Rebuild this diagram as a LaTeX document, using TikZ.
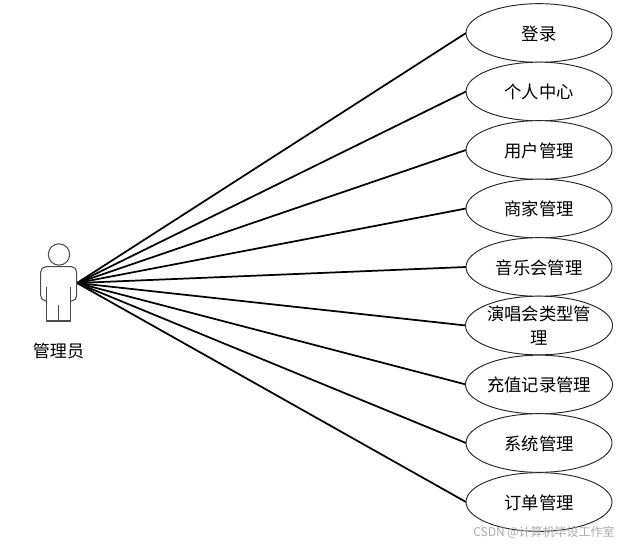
\documentclass[tikz,border=0pt]{standalone}
\usepackage{fontspec}
\setmainfont{Noto Sans CJK SC}[Scale=1]
\usetikzlibrary{shapes.geometric}
\newcommand{\casetext}[1]{\raisebox{-4.9pt}[0pt][0pt]{\begin{tabular}{@{}c@{}}#1\end{tabular}}}
\tikzset{
  px/.style={x=0.75pt,y=-0.75pt},
  usecase/.style={ellipse,draw=black!85,line width=0.7pt,fill=white,minimum width=109.5pt,minimum height=44pt,inner sep=0pt,font=\fontsize{13pt}{18pt}\selectfont},
  assoc/.style={draw=black,line width=1.3pt},
  actorline/.style={draw=black!70,line width=0.8pt,line join=round},
  actorlabel/.style={font=\fontsize{12.8pt}{16pt}\selectfont,inner sep=0pt},
  mark text/.style={font=\fontsize{9pt}{12pt}\selectfont,text=black!32,inner sep=0pt,anchor=east}
}
\begin{document}
\begin{tikzpicture}[px]
\useasboundingbox (0,0) rectangle (620,543);
\fill[white] (0,0) rectangle (620,543);
\coordinate (actor) at (77,283);
\foreach \n/\y in {1/33,2/91.5,3/150,4/208.5,5/267,6/325.5,7/384.5,8/443,9/502} \coordinate (c\n) at (466,\y);
\foreach \n in {1,...,9} \draw[assoc] (actor) -- (c\n);
\node[usecase] (u1) at (539,33) {\casetext{登录}};
\node[usecase] (u2) at (539,91.5) {\casetext{个人中心}};
\node[usecase] (u3) at (539,150) {\casetext{用户管理}};
\node[usecase] (u4) at (539,208.5) {\casetext{商家管理}};
\node[usecase] (u5) at (539,267) {\casetext{音乐会管理}};
\node[usecase] (u6) at (539,325.5) {\casetext{演唱会类型管\\理}};
\node[usecase] (u7) at (539,384.5) {\casetext{充值记录管理}};
\node[usecase] (u8) at (539,443) {\casetext{系统管理}};
\node[usecase] (u9) at (539,502) {\casetext{订单管理}};
\node[circle,actorline,minimum size=16pt,inner sep=0pt] (head) at (59,254.5) {};
\draw[actorline,rounded corners=4pt] (46.7,301) -- (40.7,301) -- (40.7,266.7) -- (76.7,266.7) -- (76.7,301) -- (70.7,301);
\draw[actorline] (46.7,287) -- (46.7,321) -- (70.7,321) -- (70.7,287);
\draw[actorline] (58.7,305) -- (58.7,321);
\node[actorlabel] (label) at (58.5,351.5) {管理员};
\node[mark text] (wm) at (615,532) {CSDN @计算机毕设工作室};
\end{tikzpicture}
\end{document}
